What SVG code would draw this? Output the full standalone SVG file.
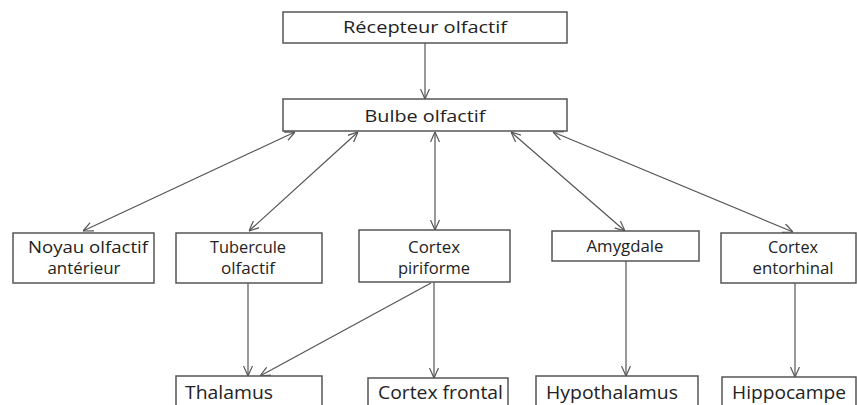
<svg xmlns="http://www.w3.org/2000/svg" width="857" height="405" viewBox="0 0 857 405">
<defs>
<marker id="ah" viewBox="0 0 10 10" refX="10" refY="5" markerWidth="10" markerHeight="10" markerUnits="userSpaceOnUse" orient="auto-start-reverse">
<path d="M0,0.5 L10,5 L0,9.5" fill="none" stroke="#555" stroke-width="1.2"/>
</marker>
</defs>
<style>
rect{fill:#fff;stroke:#555;stroke-width:1.5}
text{font-family:"Open Sans","Liberation Sans",Arial,sans-serif;fill:#222}
.m{font-size:17px;text-anchor:middle}
.b{font-size:19px}
.c line{stroke:#555;stroke-width:1.2}
</style>
<rect x="0" y="0" width="857" height="405" style="fill:#fff;stroke:none"/>
<g class="c" id="connectors">
<line x1="425" y1="43" x2="425" y2="99" marker-end="url(#ah)"/>
<line x1="295" y1="132" x2="83" y2="231" marker-start="url(#ah)" marker-end="url(#ah)"/>
<line x1="358" y1="132" x2="249" y2="231" marker-start="url(#ah)" marker-end="url(#ah)"/>
<line x1="435" y1="132" x2="435" y2="230" marker-start="url(#ah)" marker-end="url(#ah)"/>
<line x1="511" y1="132" x2="625" y2="231" marker-start="url(#ah)" marker-end="url(#ah)"/>
<line x1="553" y1="132" x2="793" y2="232" marker-start="url(#ah)" marker-end="url(#ah)"/>
<line x1="248" y1="283" x2="248" y2="376" marker-end="url(#ah)"/>
<line x1="431" y1="283" x2="260" y2="376" marker-end="url(#ah)"/>
<line x1="434" y1="282" x2="434" y2="378" marker-end="url(#ah)"/>
<line x1="626" y1="261" x2="626" y2="376" marker-end="url(#ah)"/>
<line x1="795" y1="283" x2="795" y2="377" marker-end="url(#ah)"/>
</g>
<g id="recepteur"><rect x="283" y="12" width="284" height="31"/><text class="m" x="425" y="33" textLength="164" lengthAdjust="spacingAndGlyphs">Récepteur olfactif</text></g>
<g id="bulbe"><rect x="283" y="99" width="284" height="32"/><text class="m" x="425" y="122" textLength="121" lengthAdjust="spacingAndGlyphs">Bulbe olfactif</text></g>
<g id="noyau"><rect x="13" y="233" width="141" height="50"/><text class="m" x="88" y="253" textLength="120" lengthAdjust="spacingAndGlyphs">Noyau olfactif</text><text class="m" x="84" y="274" textLength="73" lengthAdjust="spacingAndGlyphs">antérieur</text></g>
<g id="tubercule"><rect x="176" y="233" width="146" height="50"/><text class="m" x="248" y="253" textLength="76" lengthAdjust="spacingAndGlyphs">Tubercule</text><text class="m" x="248" y="274" textLength="54" lengthAdjust="spacingAndGlyphs">olfactif</text></g>
<g id="piriforme"><rect x="359" y="230" width="151" height="52"/><text class="m" x="434" y="253" textLength="52" lengthAdjust="spacingAndGlyphs">Cortex</text><text class="m" x="434" y="274" textLength="72" lengthAdjust="spacingAndGlyphs">piriforme</text></g>
<g id="amygdale"><rect x="552" y="231" width="147" height="30"/><text class="m" x="625" y="252" textLength="77" lengthAdjust="spacingAndGlyphs">Amygdale</text></g>
<g id="entorhinal"><rect x="721" y="233" width="135" height="50"/><text class="m" x="793" y="253" textLength="50" lengthAdjust="spacingAndGlyphs">Cortex</text><text class="m" x="793" y="274" textLength="81" lengthAdjust="spacingAndGlyphs">entorhinal</text></g>
<g id="thalamus"><rect x="176" y="376" width="146" height="40"/><text class="b" x="185" y="399" textLength="88" lengthAdjust="spacingAndGlyphs">Thalamus</text></g>
<g id="frontal"><rect x="368" y="378" width="140" height="40"/><text class="b" x="378" y="399" textLength="125" lengthAdjust="spacingAndGlyphs">Cortex frontal</text></g>
<g id="hypothalamus"><rect x="536" y="376" width="162" height="40"/><text class="b" x="546" y="399" textLength="132" lengthAdjust="spacingAndGlyphs">Hypothalamus</text></g>
<g id="hippocampe"><rect x="722" y="377" width="134" height="40"/><text class="b" x="732" y="399" textLength="114" lengthAdjust="spacingAndGlyphs">Hippocampe</text></g>
</svg>
